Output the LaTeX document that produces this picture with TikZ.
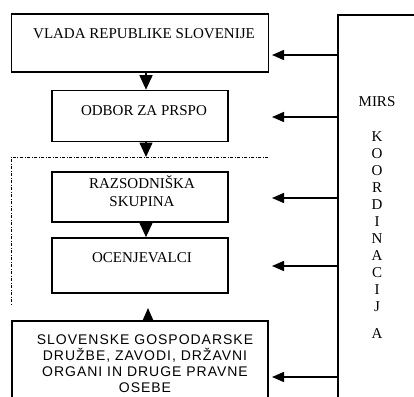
\documentclass[tikz,border=0pt]{standalone}
\usepackage{fontspec}
\setmainfont{Liberation Serif}
\newfontfamily\pravnefont[LetterSpace=7]{Liberation Sans}
\usetikzlibrary{arrows.meta}

\tikzset{
	box/.style={draw,line width=1.6pt,inner sep=0pt},
	lbl/.style={inner sep=0pt,font=\fontsize{15}{18}\selectfont,text height=10pt,text depth=0pt},
	tri/.style={line width=1.5pt,-{Triangle[length=12pt,width=10pt]}},
	vtri/.style={line width=1.5pt,-{Triangle[length=14.5pt,width=13pt]}},
	dotline/.style={line width=0.8pt,dash pattern=on 3pt off 1.5pt on 1pt off 1.5pt},
}

\begin{document}
\begin{tikzpicture}[x=1pt,y=-1pt]
	\useasboundingbox (0,0) rectangle (414,396);
	\clip (0,0) rectangle (414,396);
	\fill[white] (0,0) rectangle (414,396);

	%boxes
	\node[box,minimum width=257pt,minimum height=58pt] (vlada) at (140,43) {};
	\node[lbl] (vladatxt) at (144,33) {VLADA REPUBLIKE SLOVENIJE};
	%
	\node[box,minimum width=176pt,minimum height=51pt] (odbor) at (140,116) {};
	\node[lbl] (odbortxt) at (144,110) {ODBOR ZA PRSPO};
	%
	\node[box,minimum width=176pt,minimum height=50pt] (razs) at (140,197) {};
	\node[lbl,align=center] (razstxt) at (142,201) {RAZSODNIŠKA\\SKUPINA};
	%
	\node[box,minimum width=176pt,minimum height=55pt] (ocen) at (140,265.5) {};
	\node[lbl] (ocentxt) at (142,257) {OCENJEVALCI};
	%
	\node[box,minimum width=256pt,minimum height=100pt] (pravne) at (140,371) {};
	\node[inner sep=0pt,align=center,font=\pravnefont\fontsize{14}{16}\selectfont] (pravnetxt) at (145,364)
		{SLOVENSKE GOSPODARSKE\\DRUŽBE, ZAVODI, DRŽAVNI\\ORGANI IN DRUGE PRAVNE\\OSEBE};

	%mirs
	\node[box,minimum width=90pt,minimum height=400pt,anchor=north west] (mirs) at (337,14) {};
	\node[lbl] (mirstxt) at (377,101) {MIRS};
	\foreach \ch [count=\i] in {K,O,O,R,D,I,N,A,C,I,J}
		\node[lbl] (koord\i) at (377,119+17*\i) {\ch};
	\node[lbl] (koord12) at (377,333) {A};

	%dotted frame
	\coordinate (dotr) at (268,157);
	\coordinate (dotc) at (146,157);
	\coordinate (dotl) at (11,157);
	\coordinate (dotb) at (11,305);
	\draw[dotline] (dotr) -- (dotl) -- (dotb);

	%arrows down the chain
	\draw[vtri] ([xshift=6pt]vlada.south) -- ([xshift=6pt]odbor.north);
	\draw[vtri] ([xshift=6pt]odbor.south) -- (dotc);
	\draw[vtri] ([xshift=6pt]razs.south) -- ([xshift=6pt]ocen.north);
	\coordinate (uptip) at (148,308);
	\draw[tri] ([xshift=8pt]pravne.north) -- (uptip);

	%arrows from mirs
	\foreach \yy in {55,117,198,266,377}{
		\coordinate (tip\yy) at (272,\yy);
		\draw[tri] (mirs.west |- tip\yy) -- (tip\yy);
	}
\end{tikzpicture}
\end{document}
